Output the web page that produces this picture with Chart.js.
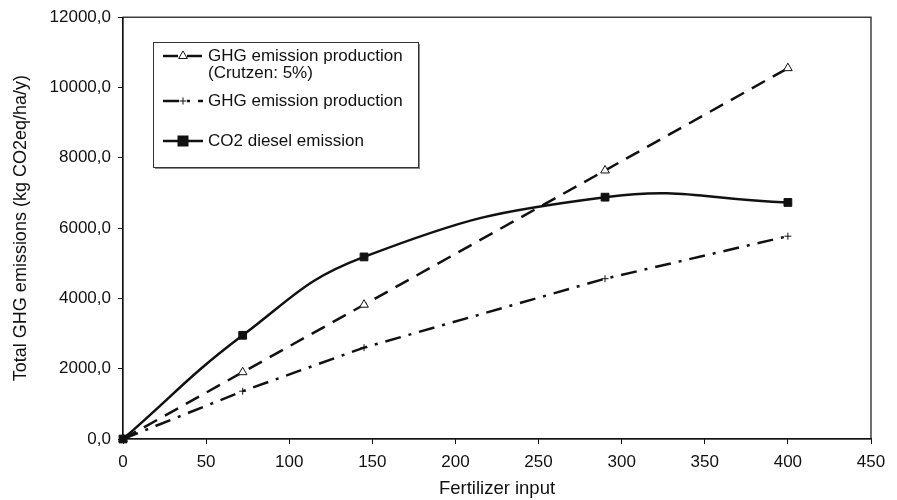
<!DOCTYPE html>
<html><head><meta charset="utf-8">
<script src="https://cdn.jsdelivr.net/npm/chart.js@4/dist/chart.umd.min.js"></script>
<style>html,body{margin:0;padding:0;background:#fff}</style>
</head><body>
<canvas id="c" width="897" height="500"></canvas>
<script>
// ---- data ----
const fertilizerInput = [0, 72, 145, 290, 400];
const ghgCrutzen      = [0, 1900, 3820, 7640, 10550];
const ghgProduction   = [0, 1360, 2600, 4560, 5770];
const co2Diesel       = [0, 2950, 5180, 6880, 6730];
const legendLabels = [
  ["GHG emission production", "(Crutzen: 5%)"],
  ["GHG emission production"],
  ["CO2 diesel emission"]
];
const xTickValues = [0, 50, 100, 150, 200, 250, 300, 350, 400, 450];
const yTickValues = [0, 2000, 4000, 6000, 8000, 10000, 12000];
const xTitle = "Fertilizer input";
const yTitle = "Total GHG emissions (kg CO2eq/ha/y)";

const FONT = "'Liberation Sans', Arial, Helvetica, sans-serif";
const INK = '#111';
const pts = ys => fertilizerInput.map((x, i) => ({x, y: ys[i]}));

const legendPlugin = {
  id: 'boxLegend',
  afterDraw(chart) {
    const ctx = chart.ctx;
    const ca = chart.chartArea;
    ctx.save();
    // frame around plot
    ctx.strokeStyle = INK; ctx.lineWidth = 1.2;
    ctx.strokeRect(ca.left, ca.top, ca.right - ca.left, ca.bottom - ca.top);
    // legend box
    const bx = 153, by = 42, bw = 265, bh = 125;
    ctx.fillStyle = '#888';
    ctx.fillRect(bx + 2, by + 2, bw, bh);
    ctx.fillStyle = '#fff';
    ctx.fillRect(bx, by, bw, bh);
    ctx.strokeStyle = '#333'; ctx.lineWidth = 1;
    ctx.strokeRect(bx + 0.5, by + 0.5, bw, bh);
    const rows = [56, 101, 141];
    ctx.font = "17px " + FONT;
    ctx.textBaseline = 'middle';
    chart.data.datasets.forEach((ds, i) => {
      const y = rows[i];
      ctx.strokeStyle = ds.borderColor; ctx.lineWidth = ds.borderWidth;
      ctx.setLineDash(ds.borderDash || []);
      ctx.beginPath(); ctx.moveTo(163, y); ctx.lineTo(203, y); ctx.stroke();
      ctx.setLineDash([]);
      // marker
      const mx = 183;
      const r = ds.pointRadius;
      ctx.lineWidth = ds.pointBorderWidth || 1;
      ctx.strokeStyle = ds.pointBorderColor; ctx.fillStyle = ds.pointBackgroundColor;
      if (ds.pointStyle === 'rect') {
        ctx.fillRect(mx - r, y - r, 2 * r, 2 * r);
      } else if (ds.pointStyle === 'triangle') {
        ctx.beginPath();
        ctx.moveTo(mx, y - r); ctx.lineTo(mx + r * 0.87, y + r * 0.5); ctx.lineTo(mx - r * 0.87, y + r * 0.5); ctx.closePath();
        ctx.fill(); ctx.stroke();
      } else {
        ctx.beginPath(); ctx.moveTo(mx - r, y); ctx.lineTo(mx + r, y); ctx.moveTo(mx, y - r); ctx.lineTo(mx, y + r); ctx.stroke();
      }
      ctx.fillStyle = '#111';
      legendLabels[i].forEach((t, k) => ctx.fillText(t, 208, y + k * 17));
    });
    ctx.restore();
  }
};

new Chart(document.getElementById('c'), {
  type: 'line',
  data: {
    datasets: [
      {
        label: legendLabels[0].join(' '),
        data: pts(ghgCrutzen),
        borderColor: INK, borderWidth: 2.5, borderDash: [15, 9],
        pointStyle: 'triangle', pointRadius: 5, pointBorderWidth: 1,
        pointBorderColor: INK, pointBackgroundColor: '#fff',
        tension: 0, clip: false, order: 2
      },
      {
        label: legendLabels[1].join(' '),
        data: pts(ghgProduction),
        borderColor: INK, borderWidth: 2.5, borderDash: [16, 8, 3, 8],
        pointStyle: 'cross', pointRadius: 3.5, pointBorderWidth: 1,
        pointBorderColor: INK, pointBackgroundColor: INK,
        tension: 0, clip: false, order: 3
      },
      {
        label: legendLabels[2].join(' '),
        data: pts(co2Diesel),
        borderColor: INK, borderWidth: 2.5,
        pointStyle: 'rect', pointRadius: 5.5, pointBorderWidth: 1,
        pointBorderColor: INK, pointBackgroundColor: INK,
        tension: 0.45, clip: false, order: 1
      }
    ]
  },
  options: {
    responsive: false,
    animation: false,
    devicePixelRatio: 1,
    layout: { padding: { top: 15, right: 26, left: 0, bottom: 0 } },
    plugins: { legend: { display: false }, tooltip: { enabled: false } },
    scales: {
      x: {
        type: 'linear', min: 0, max: 450,
        afterBuildTicks: s => { s.ticks = xTickValues.map(v => ({value: v})); },
        afterFit: s => { s.height = 61; },
        grid: { drawOnChartArea: false, color: INK, tickLength: 5, lineWidth: 1 },
        border: { color: INK, width: 1.2 },
        ticks: { color: INK, font: { family: FONT, size: 17 }, padding: 8, maxRotation: 0 },
        title: { display: true, text: xTitle, color: INK, font: { family: FONT, size: 18.5 }, padding: { top: 0, bottom: 0 } }
      },
      y: {
        type: 'linear', min: 0, max: 12000,
        afterBuildTicks: s => { s.ticks = yTickValues.map(v => ({value: v})); },
        afterFit: s => { s.width = 123; },
        grid: { drawOnChartArea: false, color: INK, tickLength: 5, lineWidth: 1 },
        border: { color: INK, width: 1.2 },
        ticks: { color: INK, font: { family: FONT, size: 17 }, padding: 7,
                 callback: v => v.toFixed(1).replace('.', ',') },
        title: { display: true, text: yTitle, color: INK, font: { family: FONT, size: 18 }, padding: { top: 10, bottom: 0 } }
      }
    }
  },
  plugins: [legendPlugin]
});
</script>
</body></html>
